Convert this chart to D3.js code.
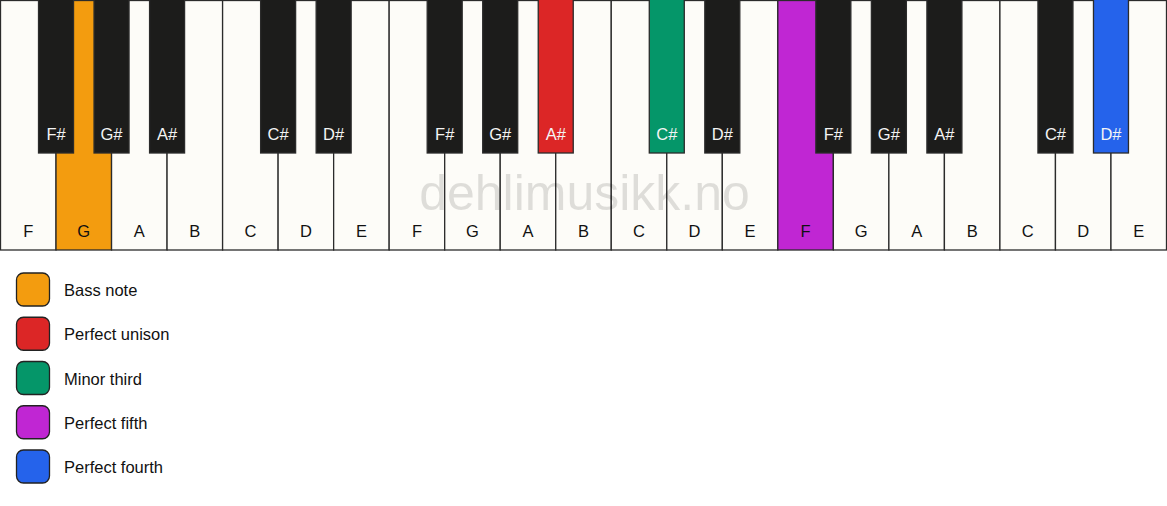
<!DOCTYPE html>
<html><head><meta charset="utf-8">
<script src="https://cdn.jsdelivr.net/npm/d3@7"></script>
<style>body{margin:0;background:#fff;}svg{display:block;font-family:Arial,"Liberation Sans",sans-serif;}</style>
</head><body>
<svg id="c" width="1167" height="506"></svg>
<script>
const whiteNotes = ["F","G","A","B","C","D","E","F","G","A","B","C","D","E","F","G","A","B","C","D","E"];
const blackNotes = ["F#","G#","A#","C#","D#","F#","G#","A#","C#","D#","F#","G#","A#","C#","D#"];
// black key sits after white key index:
const blackAfter = [0,1,2,4,5,7,8,9,11,12,14,15,16,18,19];
const highlightWhite = [{i:1, role:"Bass note"},{i:14, role:"Perfect fifth"}];
const highlightBlack = [{i:7, role:"Perfect unison"},{i:8, role:"Minor third"},{i:14, role:"Perfect fourth"}];
const legendLabels = ["Bass note","Perfect unison","Minor third","Perfect fifth","Perfect fourth"];
const legendColors = ["#f39c0f","#dc2626","#059669","#c026d3","#2563eb"];
const watermark = "dehlimusikk.no";

const svg = d3.select("#c");
const W = 1167, keyH = 250, blackH = 153, blackW = 35;
const color = d3.scaleOrdinal().domain(legendLabels).range(legendColors);
const x = d3.scaleBand().domain(d3.range(whiteNotes.length)).range([0.5, W-0.5]).padding(0);
const wmap = new Map(highlightWhite.map(d=>[d.i,d.role]));
const bmap = new Map(highlightBlack.map(d=>[d.i,d.role]));

const gW = svg.append("g");
gW.selectAll("rect").data(whiteNotes).join("rect")
  .attr("x",(d,i)=>x(i)).attr("y",0.5).attr("width",x.bandwidth()).attr("height",keyH-0.5)
  .attr("fill",(d,i)=>wmap.has(i)?color(wmap.get(i)):"#fdfcf8")
  .attr("stroke","#2b2b2b").attr("stroke-width",1.3);
gW.selectAll("text").data(whiteNotes).join("text")
  .attr("x",(d,i)=>x(i)+x.bandwidth()/2).attr("y",237)
  .attr("text-anchor","middle").attr("font-size",16.5).attr("fill","#111").text(d=>d);

svg.append("text").attr("x",W/2+1).attr("y",210).attr("text-anchor","middle")
  .attr("font-size",50).attr("fill","#000").attr("fill-opacity",0.12).text(watermark);

const gB = svg.append("g");
const bx = i => x(blackAfter[i]) + x.bandwidth();
gB.selectAll("rect").data(blackNotes).join("rect")
  .attr("x",(d,i)=>bx(i)-blackW/2).attr("y",-1).attr("width",blackW).attr("height",blackH+1)
  .attr("fill",(d,i)=>bmap.has(i)?color(bmap.get(i)):"#1c1c1b")
  .attr("stroke","#2b2b2b").attr("stroke-width",1.3);
gB.selectAll("text").data(blackNotes).join("text")
  .attr("x",(d,i)=>bx(i)).attr("y",139.5)
  .attr("text-anchor","middle").attr("font-size",16.5).attr("fill","#f4f4f4").text(d=>d);

const ly = d3.scalePoint().domain(legendLabels).range([290,467]);
const gL = svg.append("g");
gL.selectAll("rect").data(legendLabels).join("rect")
  .attr("x",16.5).attr("y",d=>ly(d)-17).attr("width",33).attr("height",33).attr("rx",7)
  .attr("fill",d=>color(d)).attr("stroke","#222").attr("stroke-width",1.3);
gL.selectAll("text").data(legendLabels).join("text")
  .attr("x",64).attr("y",d=>ly(d)+6).attr("font-size",16.5).attr("fill","#111").text(d=>d);
</script>
</body></html>
